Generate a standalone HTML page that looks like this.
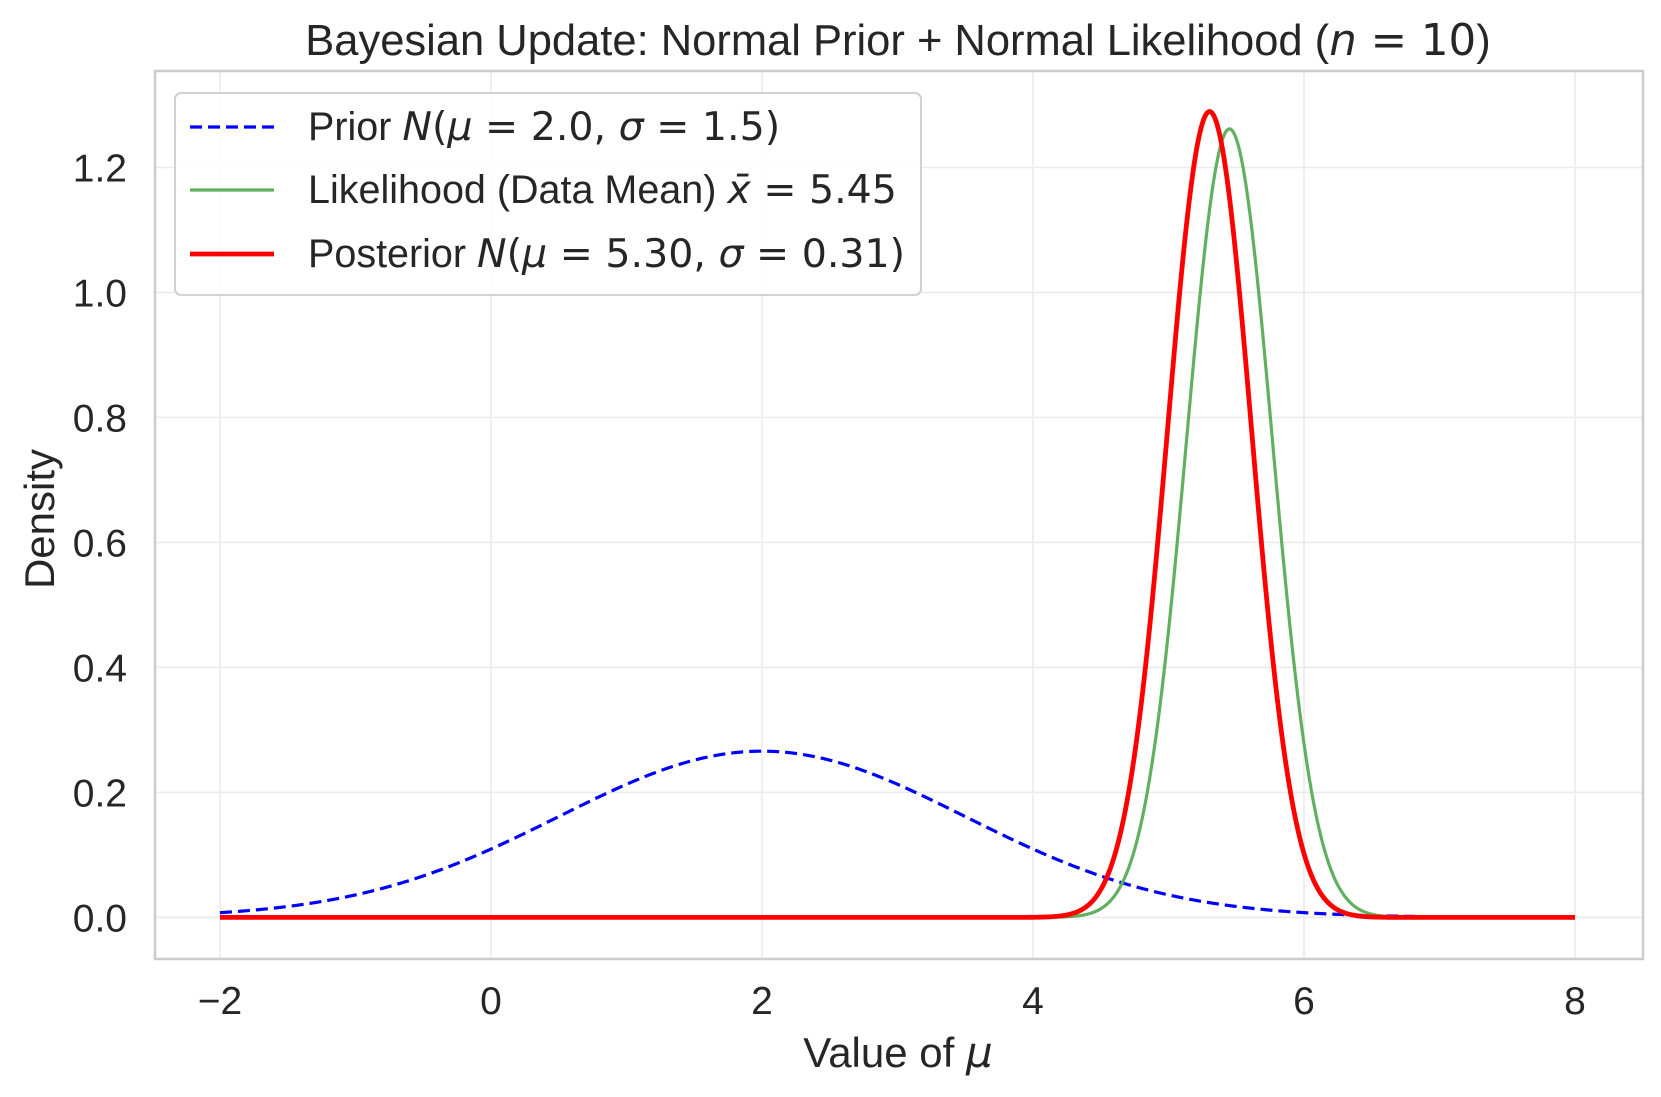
<!DOCTYPE html>
<html><head><meta charset="utf-8"><style>
html,body{margin:0;padding:0;background:#fff}
svg{display:block}
text{font-family:"Liberation Sans",Arial,sans-serif;fill:#262626}
.m{font-family:"DejaVu Sans",sans-serif;font-style:italic}
.d{font-family:"DejaVu Sans",sans-serif}
</style></head><body>
<svg id="s" width="1661" height="1097" viewBox="0 0 1661 1097" xmlns="http://www.w3.org/2000/svg">
<g id="grid" stroke="#ebebeb" stroke-width="1.6"></g>
<rect x="155" y="71" width="1488" height="888" fill="none" stroke="#cccccc" stroke-width="2.5"/>
<path id="prior" fill="none" stroke="#0000ff" stroke-width="3.2" stroke-dasharray="12,6"/>
<path id="lik" fill="none" stroke="#60b060" stroke-width="3.2"/>
<path id="post" fill="none" stroke="#ff0000" stroke-width="4.8" stroke-linejoin="round"/>
<g id="ticks" font-size="39"></g>
<text x="898" y="55" font-size="43.5" text-anchor="middle">Bayesian Update: Normal Prior + Normal Likelihood (<tspan class="m">n</tspan><tspan class="d"> = 10</tspan>)</text>
<text x="898" y="1067" font-size="42" text-anchor="middle">Value of <tspan class="m">μ</tspan></text>
<text transform="translate(54,519) rotate(-90)" font-size="42" text-anchor="middle">Density</text>
<rect x="175" y="93" width="746" height="202" rx="6" fill="#fff" fill-opacity="0.85" stroke="#cccccc" stroke-width="1.8"/>
<line x1="190" y1="127" x2="274" y2="127" stroke="#0000ff" stroke-width="3.2" stroke-dasharray="12,6"/>
<line x1="190" y1="190" x2="274" y2="190" stroke="#60b060" stroke-width="3.2"/>
<line x1="190" y1="254" x2="274" y2="254" stroke="#ff0000" stroke-width="4.8"/>
<text x="308" y="140" font-size="39.5">Prior <tspan class="m">N</tspan><tspan class="d">(</tspan><tspan class="m">μ</tspan><tspan class="d"> = 2.0, </tspan><tspan class="m">σ</tspan><tspan class="d"> = 1.5)</tspan></text>
<text x="308" y="203" font-size="39.5">Likelihood (Data Mean) <tspan class="m">x̄</tspan><tspan class="d"> = 5.45</tspan></text>
<text x="308" y="267" font-size="39.5">Posterior <tspan class="m">N</tspan><tspan class="d">(</tspan><tspan class="m">μ</tspan><tspan class="d"> = 5.30, </tspan><tspan class="m">σ</tspan><tspan class="d"> = 0.31)</tspan></text>
</svg>
<script>
var NS="http://www.w3.org/2000/svg";
function X(v){return 220+(v+2)*135.5;}
function Y(v){return 917.4-v*625;}
var g=document.getElementById('grid'),t=document.getElementById('ticks');
for(var v=-2;v<=8;v+=2){var l=document.createElementNS(NS,'line');l.setAttribute('x1',X(v));l.setAttribute('x2',X(v));l.setAttribute('y1',72);l.setAttribute('y2',958);g.appendChild(l);
var e=document.createElementNS(NS,'text');e.setAttribute('x',X(v));e.setAttribute('y',1014);e.setAttribute('text-anchor','middle');e.textContent=(v<0?'\u2212'+(-v):v);t.appendChild(e);}
for(var i=0;i<=6;i++){var v=i*0.2;var l=document.createElementNS(NS,'line');l.setAttribute('x1',156);l.setAttribute('x2',1642);l.setAttribute('y1',Y(v));l.setAttribute('y2',Y(v));g.appendChild(l);
var e=document.createElementNS(NS,'text');e.setAttribute('x',127);e.setAttribute('y',Y(v)+14);e.setAttribute('text-anchor','end');e.textContent=v.toFixed(1);t.appendChild(e);}
function pdf(x,m,s){return Math.exp(-0.5*((x-m)/s)*((x-m)/s))/(s*Math.sqrt(2*Math.PI));}
function path(m,s){var d='';for(var k=0;k<=1000;k++){var x=-2+k*0.01;d+=(k?'L':'M')+X(x).toFixed(2)+','+Y(pdf(x,m,s)).toFixed(2);}return d;}
document.getElementById('prior').setAttribute('d',path(2,1.5));
document.getElementById('lik').setAttribute('d',path(5.45,0.3162));
document.getElementById('post').setAttribute('d',path(5.303,0.3094));
</script>
</body></html>
